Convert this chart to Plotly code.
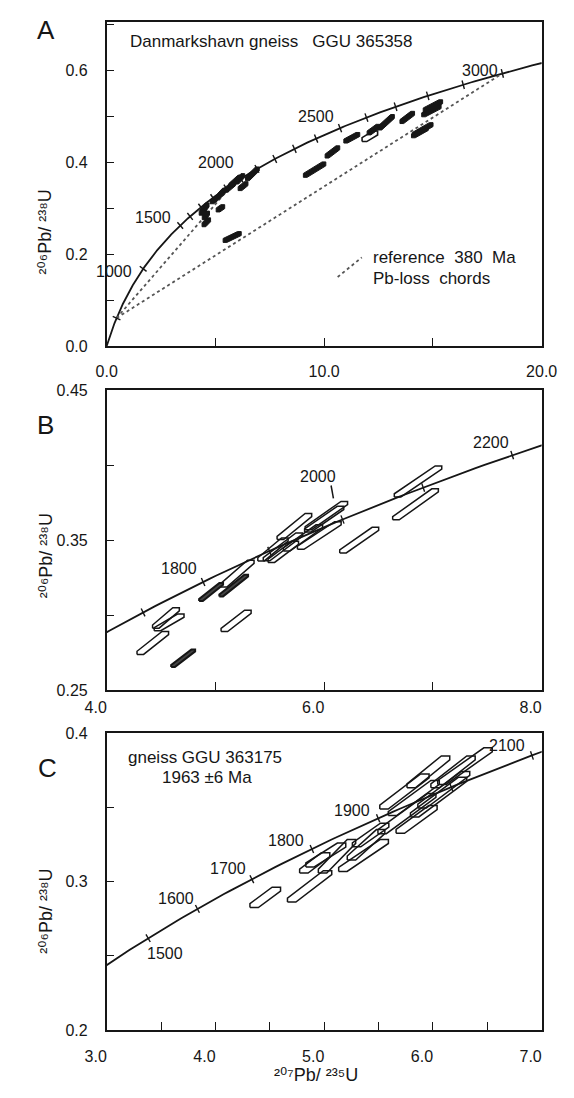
import plotly.graph_objects as go
import numpy as np

W, H = 574, 1098
L238 = 1.55125e-4   # decay constant 238U, per Ma
L235 = 9.8485e-4    # decay constant 235U, per Ma

# ---------------- data ----------------
concordia_ages = list(range(0, 3201, 10))
A_tick_ages = [380, 1000] + list(range(1500, 3001, 100))
B_tick_ages = [1700, 1800, 1900, 2000, 2100, 2200]
C_tick_ages = [1500, 1600, 1700, 1800, 1900, 2000, 2100]
chord_lower_age = 380
chord_upper_ages = [1950, 3000]

# axis tick labels
A_xticks = [0, 10, 20]
A_yticks = [0.0, 0.2, 0.4, 0.6]
B_xticks = [4, 6, 8]
B_yticks = [0.25, 0.35, 0.45]
C_xticks = [3, 4, 5, 6, 7]
C_yticks = [0.2, 0.3, 0.4]

# Panel A (GGU 365358): 207Pb/235U, 206Pb/238U centres and half-extents
A_r75 = [5.77, 4.58, 5.23, 4.48, 4.56, 4.98, 5.66, 5.91, 6.12, 6.27, 6.70, 5.30,
         9.56, 10.38, 11.27, 12.27, 12.85, 13.82, 14.53, 14.40, 14.93, 15.00]
A_r68 = [0.237, 0.269, 0.2994, 0.2977, 0.284, 0.319, 0.3458, 0.358, 0.3635, 0.3476, 0.3743, 0.333,
         0.3835, 0.422, 0.4528, 0.4705, 0.4865, 0.497, 0.4707, 0.465, 0.5116, 0.5222]
A_e75 = [0.33, 0.11, 0.11, 0.14, 0.08, 0.14, 0.18, 0.21, 0.14, 0.14, 0.23, 0.12,
         0.43, 0.25, 0.28, 0.21, 0.29, 0.25, 0.39, 0.30, 0.36, 0.36]
A_e68 = [0.0075, 0.0054, 0.0036, 0.009, 0.005, 0.0054, 0.0072, 0.009, 0.007, 0.0054, 0.0107, 0.006,
         0.0125, 0.009, 0.0072, 0.0072, 0.0125, 0.009, 0.0107, 0.008, 0.0089, 0.0089]
A_open_r75 = [12.10]
A_open_r68 = [0.456]
A_open_e75 = [0.25]
A_open_e68 = [0.0072]

# Panel B (GGU 365358, enlarged)
B_r75 = [4.545, 4.574, 4.424, 5.20, 5.19, 5.726, 6.02, 6.00, 5.955, 5.62, 5.805, 5.529, 5.624,
         6.322, 6.863, 6.84]
B_r68 = [0.2981, 0.2951, 0.2814, 0.3276, 0.2961, 0.3591, 0.3664, 0.3640, 0.3531, 0.3455, 0.3515,
         0.3438, 0.3422, 0.350, 0.3892, 0.3739]
B_e75 = [0.093, 0.107, 0.115, 0.125, 0.108, 0.129, 0.165, 0.15, 0.171, 0.15, 0.15, 0.109, 0.11,
         0.149, 0.188, 0.18]
B_e68 = [0.0058, 0.0045, 0.0066, 0.0079, 0.0061, 0.0077, 0.0084, 0.0075, 0.0082, 0.0082, 0.0077,
         0.0066, 0.006, 0.0075, 0.0093, 0.0093]
B_dark_r75 = [4.703, 4.96, 5.168]
B_dark_r68 = [0.2712, 0.3154, 0.3197]
B_dark_e75 = [0.093, 0.093, 0.115]
B_dark_e68 = [0.0052, 0.0054, 0.0066]

# Panel C (GGU 363175)
C_r75 = [4.458, 4.866, 4.913, 5.118, 5.362, 5.385, 5.738, 5.761, 5.824, 6.052, 6.295, 6.185,
         5.958, 5.427, 5.015, 6.10, 5.85]
C_r68 = [0.2895, 0.2969, 0.3127, 0.3172, 0.3177, 0.3249, 0.3608, 0.3459, 0.3564, 0.357, 0.3779,
         0.374, 0.374, 0.3315, 0.318, 0.362, 0.342]
C_e75 = [0.102, 0.165, 0.10, 0.133, 0.19, 0.134, 0.188, 0.228, 0.196, 0.22, 0.212, 0.165, 0.158,
         0.129, 0.145, 0.20, 0.15]
C_e68 = [0.0055, 0.0092, 0.0055, 0.01, 0.0094, 0.0089, 0.0105, 0.0122, 0.0105, 0.012, 0.011,
         0.0094, 0.0094, 0.0066, 0.0067, 0.011, 0.008]

# ---------------- layout geometry ----------------
XL, XR = 90.7, 556.5
panels = {
    "A": dict(top=14.0, bot=343.3, xr=[0, 20], yr=[0, 0.705]),
    "B": dict(top=388.3, bot=692.7, xr=[4, 8], yr=[0.25, 0.45]),
    "C": dict(top=736.7, bot=1038.3, xr=[3, 7], yr=[0.2, 0.4]),
}
for p in panels.values():
    p["sx"] = (XR - XL) / (p["xr"][1] - p["xr"][0])
    p["sy"] = (p["bot"] - p["top"]) / (p["yr"][1] - p["yr"][0])

FONT = "Arial, Liberation Sans, Helvetica, DejaVu Sans, sans-serif"
INK = "#161616"
NB = "\u00a0"


def conc(t):
    t = np.asarray(t, dtype=float)
    return np.exp(L235 * t) - 1, np.exp(L238 * t) - 1


def hexes(r75, r68, e75, e68, p, cxp, cyp):
    dx, dy = cxp / p["sx"], cyp / p["sy"]
    xs, ys = [], []
    for x, y, ex, ey in zip(r75, r68, e75, e68):
        x1, y1, x2, y2 = x - ex, y - ey, x + ex, y + ey
        xs += [x1 - dx, x1 + dx, x2 + dx, x2 + dx, x2 - dx, x1 - dx, x1 - dx, None]
        ys += [y1 - dy, y1 - dy, y2 - dy, y2 + dy, y2 + dy, y1 + dy, y1 - dy, None]
    return xs, ys


def conc_ticks(ages, p, half=4.5):
    xs, ys = [], []
    for t in ages:
        x, y = conc(t)
        dxdt = L235 * (x + 1) * p["sx"]
        dydt = L238 * (y + 1) * p["sy"]
        n = np.hypot(dxdt, dydt)
        nx, ny = -dydt / n, dxdt / n
        xs += [x - nx * half / p["sx"], x + nx * half / p["sx"], None]
        ys += [y - ny * half / p["sy"], y + ny * half / p["sy"], None]
    return xs, ys


fig = go.Figure()
axes = {"A": ("x", "y"), "B": ("x2", "y2"), "C": ("x3", "y3")}

cx_all, cy_all = conc(concordia_ages)
for key, (xa, ya) in axes.items():
    fig.add_trace(go.Scatter(x=cx_all, y=cy_all, mode="lines", xaxis=xa, yaxis=ya,
                             line=dict(color=INK, width=1.8), hoverinfo="skip"))

# Pb-loss chords (panel A)
lx, ly = conc(chord_lower_age)
for ua in chord_upper_ages:
    ux, uy = conc(ua)
    fig.add_trace(go.Scatter(x=[lx, ux], y=[ly, uy], mode="lines", xaxis="x", yaxis="y",
                             line=dict(color="#555", width=1.8, dash="dot"), hoverinfo="skip"))

# concordia age ticks
for key, ages in (("A", A_tick_ages), ("B", B_tick_ages), ("C", C_tick_ages)):
    xa, ya = axes[key]
    tx, ty = conc_ticks(ages, panels[key])
    fig.add_trace(go.Scatter(x=tx, y=ty, mode="lines", xaxis=xa, yaxis=ya,
                             line=dict(color=INK, width=1.4), hoverinfo="skip"))

# analyses
ax_, ay_ = hexes(A_r75, A_r68, A_e75, A_e68, panels["A"], 2.0, 2.0)
fig.add_trace(go.Scatter(x=ax_, y=ay_, mode="lines", fill="toself", fillcolor=INK,
                         xaxis="x", yaxis="y", line=dict(color=INK, width=1), hoverinfo="skip"))
ox, oy = hexes(A_open_r75, A_open_r68, A_open_e75, A_open_e68, panels["A"], 2.5, 2.0)
fig.add_trace(go.Scatter(x=ox, y=oy, mode="lines", xaxis="x", yaxis="y",
                         line=dict(color=INK, width=1.6), hoverinfo="skip"))

bx, by = hexes(B_r75, B_r68, B_e75, B_e68, panels["B"], 3.5, 1.6)
fig.add_trace(go.Scatter(x=bx, y=by, mode="lines", xaxis="x2", yaxis="y2",
                         line=dict(color=INK, width=1.5), hoverinfo="skip"))
bdx, bdy = hexes(B_dark_r75, B_dark_r68, B_dark_e75, B_dark_e68, panels["B"], 2.0, 1.0)
fig.add_trace(go.Scatter(x=bdx, y=bdy, mode="lines", fill="toself", fillcolor="#444",
                         xaxis="x2", yaxis="y2", line=dict(color=INK, width=2.0), hoverinfo="skip"))

cx_, cy_ = hexes(C_r75, C_r68, C_e75, C_e68, panels["C"], 4.5, 2.0)
fig.add_trace(go.Scatter(x=cx_, y=cy_, mode="lines", xaxis="x3", yaxis="y3",
                         line=dict(color=INK, width=1.5), hoverinfo="skip"))


def dom_y(p):
    return [1 - p["bot"] / H, 1 - p["top"] / H]


def axis(vals, fmt, minor_dtick, minor_tick0, **kw):
    d = dict(showline=True, mirror=True, linecolor=INK, linewidth=1.6, ticks="inside",
             ticklen=8, tickwidth=1.4, tickcolor=INK, showgrid=False, zeroline=False,
             tickfont=dict(family=FONT, size=16, color=INK), fixedrange=True,
             tickmode="array", tickvals=vals, ticktext=[fmt.format(v) for v in vals],
             minor=dict(ticks="inside", ticklen=8, tickwidth=1.4, tickcolor=INK,
                        dtick=minor_dtick, tick0=minor_tick0, showgrid=False))
    d.update(kw)
    return d


xdom = [XL / W, XR / W]

fig.update_layout(
    width=W, height=H, margin=dict(l=0, r=0, t=0, b=0),
    paper_bgcolor="white", plot_bgcolor="white", showlegend=False,
    xaxis=axis(A_xticks, "{:.1f}", 5, 0, domain=xdom, range=panels["A"]["xr"], anchor="y",
               ticklabelstandoff=10),
    yaxis=axis(A_yticks, "{:.1f}", 0.1, 0, domain=dom_y(panels["A"]), range=panels["A"]["yr"],
               anchor="x", ticklabelstandoff=14),
    xaxis2=axis(B_xticks, "{:.1f}", 1, 4, domain=xdom, range=panels["B"]["xr"], anchor="y2",
                ticklabelstandoff=2, ticklabelshift=-11),
    yaxis2=axis(B_yticks, "{:.2f}", 0.05, 0.25, domain=dom_y(panels["B"]),
                range=panels["B"]["yr"], anchor="x2", ticklabelstandoff=14),
    xaxis3=axis(C_xticks, "{:.1f}", 0.5, 3, domain=xdom, range=panels["C"]["xr"], anchor="y3",
                ticklabelstandoff=11, ticklabelshift=-11),
    yaxis3=axis(C_yticks, "{:.1f}", 0.05, 0.2, domain=dom_y(panels["C"]),
                range=panels["C"]["yr"], anchor="x3", ticklabelstandoff=14),
)

# legend sample line for chords (panel A)
fig.add_shape(type="line", xref="x", yref="y", x0=10.62, y0=0.150, x1=11.73, y1=0.1925,
              line=dict(color="#555", width=1.8, dash="dot"))

annots = []


def txt(text, px, py, size=16, xanchor="center", angle=0):
    annots.append(dict(text=text, x=px / W, y=1 - py / H, xref="paper", yref="paper",
                       showarrow=False, xanchor=xanchor, yanchor="middle", textangle=angle,
                       font=dict(family=FONT, size=size, color=INK)))


# panel letters
txt("A", 25.6, 22, 26)
txt("B", 24.7, 424, 26)
txt("C", 27.4, 772, 26)

# panel texts
txt("Danmarkshavn gneiss" + NB * 3 + "GGU 365358", 113, 34, 17, "left")
txt("reference" + NB * 2 + "380" + NB * 2 + "Ma", 373.7, 253, 17, "left")
txt("Pb-loss" + NB * 2 + "chords", 373.7, 275, 17, "left")
txt("gneiss GGU 363175", 111.5, 761, 17, "left")
txt("1963 ±6 Ma", 148, 782, 17, "left")

# concordia age labels
for s, px, py in [("1000", 98.8, 268), ("1500", 140, 213), ("2000", 207.5, 157),
                  ("2500", 315, 110), ("3000", 490, 63),
                  ("1800", 168, 569), ("2000", 317, 476), ("2200", 502, 441),
                  ("1500", 153.6, 960), ("1600", 164.5, 904), ("1700", 221, 874),
                  ("1800", 283, 846), ("1900", 353, 815), ("2100", 519, 749)]:
    txt(s, px, py, 16)

# leader line to 2000 in panel B
fig.add_shape(type="line", xref="paper", yref="paper", x0=331 / W, y0=1 - 485 / H,
              x1=333.5 / W, y1=1 - 498 / H, line=dict(color=INK, width=1.5))

# axis titles (unicode superscripts keep each title a single text run)
ytitle = "\u00b2\u2070\u2076Pb/\u00a0\u00b2\u00b3\u2078U"
txt(ytitle, 25.6, 227, 18, angle=-90)
txt(ytitle, 25.6, 556, 18, angle=-90)
txt(ytitle, 25.6, 917, 18, angle=-90)
txt("\u00b2\u2070\u2077Pb/\u00a0\u00b2\u00b3\u2075U", 314.5, 1084, 18)

fig.update_layout(annotations=annots)
fig.write_html("out.html", config={"displayModeBar": False},
               post_script="document.body.style.margin='0';document.body.style.overflow='hidden';")
